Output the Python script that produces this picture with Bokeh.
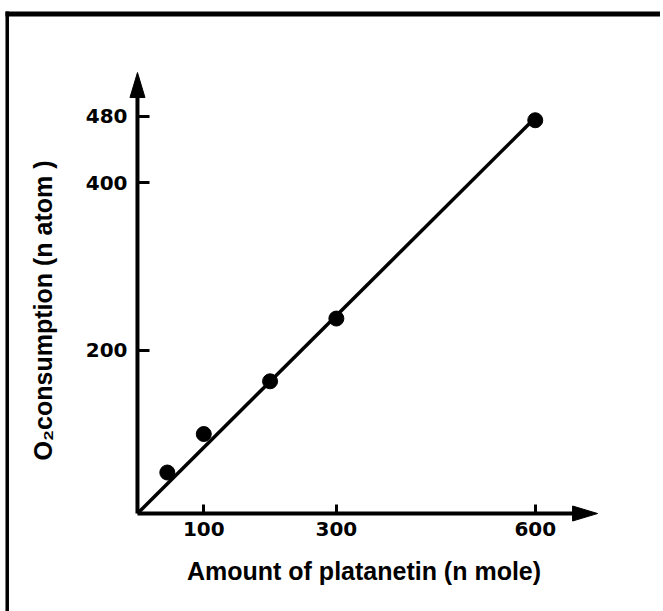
from bokeh.plotting import figure
from bokeh.models import (Range1d, FixedTicker, ColumnDataSource, BoxAnnotation)
from bokeh.embed import file_html
from bokeh.resources import INLINE

# ---- data ----
platanetin = [45, 100, 200, 300, 600]          # n mole
o2_consumption = [54, 100, 163, 238, 475]      # n atom
fit_x = [0, 600]
fit_y = [5, 478]
x_ticks = [100, 300, 600]
y_ticks = [200, 400, 480]
x_label = "Amount  of platanetin (n mole)"
y_label = "O\u2082consumption (n atom )"

# axis origin / arrow tips (data units)
X0, X_TIP = 0, 694
Y0, Y_TIP = 5, 532
Y_LABEL_BOUNDS = (5, 490)

# frame fills the whole page; scales in px per data unit
SX, SY = 0.663, 0.8367
X_RANGE = (-206.6, 788.9)
Y_RANGE = (-112.1, 618.1)
# sheet border (data units of the same scales)
BORDER_LEFT, BORDER_LEFT_R = -199.1, -193.8
BORDER_TOP, BORDER_TOP_B = 605.0, 599.0

# arrowhead size in px (length, half width)
HEAD_LEN, HEAD_HALF = 25, 7.5

p = figure(width=660, height=611, output_backend="svg", toolbar_location=None,
           x_range=Range1d(*X_RANGE), y_range=Range1d(*Y_RANGE),
           min_border=0)
p.outline_line_color = None
p.background_fill_color = "white"
p.border_fill_color = "white"
p.grid.visible = False

# sheet border: top and left edges
p.add_layout(BoxAnnotation(left=BORDER_LEFT, right=None, bottom=BORDER_TOP_B, top=BORDER_TOP,
                           fill_color="black", fill_alpha=1, line_color=None))
p.add_layout(BoxAnnotation(left=BORDER_LEFT, right=BORDER_LEFT_R, bottom=None, top=BORDER_TOP,
                           fill_color="black", fill_alpha=1, line_color=None))

# axis shafts
p.segment(x0=[X0, X0], y0=[Y0, Y0], x1=[X_TIP - HEAD_LEN / SX / 2, X0],
          y1=[Y0, Y_TIP - HEAD_LEN / SY / 2], line_color="black", line_width=4)
# arrowheads
head_xs = [[X_TIP, X_TIP - HEAD_LEN / SX, X_TIP - HEAD_LEN / SX],
           [X0, X0 - HEAD_HALF / SX, X0 + HEAD_HALF / SX]]
head_ys = [[Y0, Y0 + HEAD_HALF / SY, Y0 - HEAD_HALF / SY],
           [Y_TIP, Y_TIP - HEAD_LEN / SY, Y_TIP - HEAD_LEN / SY]]
p.patches(head_xs, head_ys, fill_color="black", line_color="black", line_width=1)

src = ColumnDataSource(dict(x=platanetin, y=o2_consumption))
p.line(fit_x, fit_y, line_color="black", line_width=3.5)
p.scatter("x", "y", source=src, size=15, fill_color="black", line_color="black")

for ax in (p.xaxis[0], p.yaxis[0]):
    ax.axis_line_color = None
    ax.major_tick_line_color = "black"
    ax.major_tick_line_width = 3
    ax.major_tick_out = 0
    ax.minor_tick_line_color = None
    ax.major_label_text_font = "DejaVu Sans"
    ax.major_label_text_font_style = "bold"
    ax.major_label_text_font_size = "20px"
    ax.major_label_text_color = "black"
    ax.axis_label_text_font = "Liberation Sans"
    ax.axis_label_text_font_style = "bold"
    ax.axis_label_text_font_size = "25px"
    ax.axis_label_text_color = "black"

p.xaxis.fixed_location = Y0
p.yaxis.fixed_location = X0
p.xaxis.bounds = (X0, X_TIP)
p.yaxis.bounds = Y_LABEL_BOUNDS
p.xaxis.ticker = FixedTicker(ticks=x_ticks)
p.yaxis.ticker = FixedTicker(ticks=y_ticks)
p.xaxis.major_tick_in = 9
p.yaxis.major_tick_in = 12
p.xaxis.major_label_standoff = 8
p.yaxis.major_label_standoff = 10
p.xaxis.axis_label = x_label
p.yaxis.axis_label = y_label
p.xaxis.axis_label_standoff = 18
p.yaxis.axis_label_standoff = 26

open("out.html", "w").write(file_html(p, INLINE))
